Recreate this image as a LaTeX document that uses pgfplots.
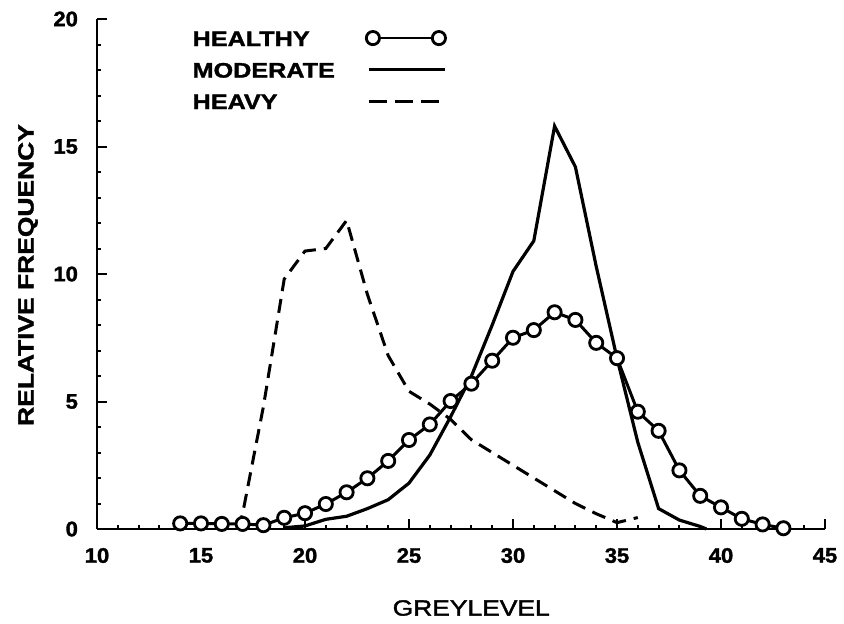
\documentclass[border=0pt]{standalone}
\usepackage{fontspec}
\setmainfont{Liberation Sans}
\newfontfamily\lgfont[FakeStretch=1.2,FakeBold=1.5]{Liberation Sans Bold}
\newfontfamily\tkfont[FakeStretch=1.05,FakeBold=1.5]{Liberation Sans Bold}
\newfontfamily\xlfont[FakeStretch=1.2,FakeBold=1.8]{Liberation Sans}
\usepackage{pgfplots}
\pgfplotsset{compat=1.18}
\begin{document}
\begin{tikzpicture}
\begin{axis}[
  scale only axis, width=364pt, height=255pt,
  xmin=10, xmax=45, ymin=0, ymax=20,
  axis x line*=bottom, axis y line*=left,
  xtick={10,15,...,45}, ytick={0,5,...,20},
  minor tick num=4,
  tick align=inside,
  major tick length=5pt, minor tick length=2pt,
  axis line style={line width=1.4pt},
  every tick/.style={line width=1pt, black},
  tick label style={font=\tkfont\fontsize{10.5}{12}\selectfont},
  xticklabel style={yshift=-6pt},
  yticklabel style={xshift=-6pt},
  /pgf/number format/assume math mode=true,
  clip=false,
  xlabel={GREYLEVEL},
  xlabel style={font=\xlfont\fontsize{11}{12}\selectfont, at={(axis description cs:0.514,0)}, anchor=center, yshift=-39.5pt},
  ylabel={RELATIVE FREQUENCY},
  ylabel style={font=\lgfont\fontsize{11}{12}\selectfont, at={(axis description cs:0,0.498)}, anchor=center, yshift=34.5pt},
  legend plot pos=right,
  legend cell align=left,
  legend style={at={(axis description cs:0.128,0.983)}, anchor=north west, draw=none, fill=none,
    font=\lgfont\fontsize{10.5}{12}\selectfont, inner sep=0pt, row sep=5.75pt, column sep=14pt,
    nodes={inner sep=1pt, text height=8pt, text depth=0pt}},
]
\addlegendimage{legend image code/.code={\draw[black, line width=1.4pt] (0pt,0pt) -- (33pt,0pt); \draw[black, line width=1.4pt, fill=white] (0pt,0pt) circle (3.3pt) (33pt,0pt) circle (3.3pt);}}
\addlegendentry{HEALTHY}
\addlegendimage{legend image code/.code={\draw[black, line width=1.5pt] (-2pt,0pt) -- (36pt,0pt);}}
\addlegendentry{MODERATE}
\addlegendimage{legend image code/.code={\draw[black, line width=1.5pt, dash pattern=on 9pt off 4pt] (-2pt,0pt) -- (36pt,0pt);}}
\addlegendentry{HEAVY}

% HEAVY
\addplot[forget plot, black, line width=1.5pt, dash pattern=on 7pt off 4pt] coordinates {
(16.8,0) (17,0.6) (18,4.8) (19,9.8) (20,10.9) (21,11.0) (22,12.1) (23,9.2) (24,6.8) (25,5.4) (26,4.9) (27,4.3) (28,3.5) (29,3.0) (30,2.5) (31,2.0) (32,1.5) (33,1.0) (34,0.6) (35,0.25) (36,0.45)
};
% MODERATE
\addplot[forget plot, black, line width=1.6pt] coordinates {
(19,0.05) (20,0.12) (21,0.38) (22,0.5) (23,0.8) (24,1.15) (25,1.8) (26,2.9) (27,4.4) (28,6.0) (29,8.0) (30,10.1) (31,11.3) (32,15.8) (33,14.2) (34,10.3) (35,6.7) (36,3.4) (37,0.8) (38,0.35) (39,0.1) (39.3,0)
};
% HEALTHY
\addplot[forget plot, black, line width=1.5pt, mark=*, mark size=3.3pt, mark options={fill=white, draw=black, line width=1.4pt}] coordinates {
(14,0.22) (15,0.22) (16,0.2) (17,0.2) (18,0.15) (19,0.44) (20,0.62) (21,0.98) (22,1.44) (23,1.99) (24,2.67) (25,3.49) (26,4.1) (27,5.02) (28,5.7) (29,6.6) (30,7.5) (31,7.8) (32,8.5) (33,8.2) (34,7.3) (35,6.7) (36,4.6) (37,3.85) (38,2.3) (39,1.3) (40,0.85) (41,0.4) (42,0.18) (43,0.03)
};
\coordinate (SW) at (rel axis cs:0,0);
\coordinate (NE) at (rel axis cs:1,1);
\end{axis}
\pgfresetboundingbox
\path[use as bounding box] ([shift={(-48.5pt,-47pt)}]SW) rectangle ([shift={(9.5pt,9.5pt)}]NE);
\end{tikzpicture}
\end{document}
